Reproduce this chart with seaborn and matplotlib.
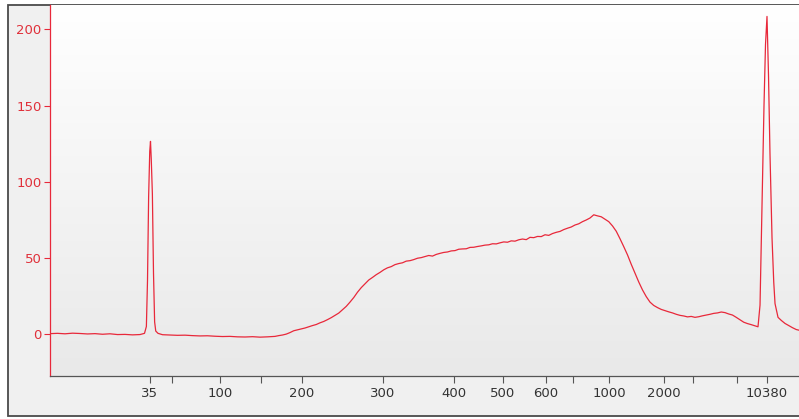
import numpy as np
import pandas as pd
import matplotlib
matplotlib.use("Agg")
import matplotlib.pyplot as plt
from matplotlib.colors import LinearSegmentedColormap
from matplotlib.patches import Rectangle
import seaborn as sns

# ---- data -------------------------------------------------------------
# migration time (s) and fluorescence units
time_s = [
    15, 16, 17, 18, 19, 20, 21, 22, 23, 24, 25, 26, 27, 27.6,
    27.85, 28.0, 28.15, 28.3, 28.4, 28.5, 28.65, 28.8, 28.95, 29.1, 29.4,
    30, 31, 32, 33, 34, 35, 36, 37, 38, 39, 40, 41, 42, 43, 44, 45,
    45.5, 46, 46.5, 47, 47.5, 48, 48.5, 49, 49.5, 50, 50.5, 51, 51.5, 52,
    52.5, 53, 53.5, 54, 54.5, 55, 55.5, 56, 56.5, 57, 57.5, 58, 58.5, 59,
    59.5, 60, 60.5, 61, 61.5, 62, 62.5, 63, 63.5, 64, 64.5, 65, 65.5, 66,
    66.5, 67, 67.5, 68, 68.5, 69, 69.5, 70, 70.5, 71, 71.5, 72, 72.5, 73,
    73.5, 74, 74.5, 75, 75.5, 76, 76.5, 77, 77.5, 78, 78.5, 79, 79.5, 80,
    80.5, 81, 81.5, 82, 82.5, 83, 83.5, 84, 84.5, 85, 85.5, 86, 86.5, 87,
    87.5, 88, 88.5, 89, 89.5, 90, 90.5, 91, 91.5, 92, 92.5, 93, 93.5, 94,
    94.5, 95, 95.5, 96, 96.5, 97, 97.5, 98, 98.5, 99, 99.5, 100, 100.5,
    101, 101.5, 102, 102.5, 103, 103.5, 104, 104.5, 105, 105.5, 106, 106.5,
    107, 107.5, 108, 108.5, 109, 109.4, 109.67, 109.93, 110.2, 110.4, 110.6,
    110.8, 111.0, 111.27, 111.5, 111.67, 112.07, 112.5, 113, 113.5, 114,
    114.5, 115,
]
fu = [
    0.3, 0.5, 0.2, 0.6, 0.4, 0.1, 0.3, -0.1, 0.2, -0.3, -0.2, -0.5, -0.3, 0.5,
    5, 35, 90, 120, 126.5, 115, 92, 40, 8, 2, 0.5,
    -0.4, -0.6, -0.8, -0.7, -1.0, -1.2, -1.1, -1.4, -1.6, -1.5, -1.8, -1.9,
    -1.7, -2.0, -1.8, -1.5,
    -1.0, -0.6, 0.0, 1.0, 2.2, 2.8, 3.4, 4.0, 4.8, 5.6, 6.3, 7.4, 8.3, 9.5,
    10.8, 12.3, 13.8, 16.0, 18.2, 21.0, 24.0, 27.5, 30.5, 33.0, 35.5, 37.2,
    39.0, 40.5, 42.2, 43.5, 44.3, 45.6, 46.3, 46.8, 47.9, 48.2, 48.9, 49.8,
    50.2, 50.9, 51.6, 51.2, 52.3, 53.0, 53.6, 53.9, 54.6, 54.8, 55.7, 55.9,
    56.0, 56.9, 57.0, 57.5, 57.9, 58.4, 58.6, 59.3, 59.2, 59.9, 60.5, 60.3,
    61.2, 61.0, 61.9, 62.4, 62.0, 63.5, 63.3, 64.1, 64.0, 65.2, 64.8, 66.0,
    66.8, 67.4, 68.6, 69.5, 70.3, 71.6, 72.4, 73.8, 74.9, 76.2, 78.3, 77.6,
    77.0, 75.4, 73.8, 71.0, 67.5, 62.6, 57.4, 52.0, 45.8, 40.0, 34.2, 29.0,
    24.6, 21.0, 18.8, 17.4, 16.2, 15.4, 14.6, 13.9, 13.0, 12.3, 11.9, 11.3,
    11.6, 11.0, 11.4, 12.0, 12.5, 13.0, 13.6, 13.9, 14.5, 14.1, 13.2, 12.5,
    11.0, 9.4, 7.8, 6.9, 6.2, 5.4, 4.8, 19, 84, 150, 190, 208.5, 170, 118,
    63, 34, 20, 11, 9, 7, 5.6, 4.2, 3, 2.4,
]

# ladder sizes (bp) and their migration times (s)
ladder_bp = [35, 50, 100, 150, 200, 300, 400, 500, 600, 700, 1000, 2000,
             3000, 7000, 10380]
ladder_time = [28.33, 31.27, 37.67, 43.13, 48.6, 59.4, 68.87, 75.4, 81.13,
               84.73, 89.53, 96.87, 100.73, 106.6, 110.6]
labelled_bp = [35, 100, 200, 300, 400, 500, 600, 1000, 2000, 10380]
y_ticks = [0, 50, 100, 150, 200]

df = pd.DataFrame({"time": time_s, "fu": fu})

# ---- figure -----------------------------------------------------------
sns.set_style("white")
plt.rcParams["font.family"] = ["DejaVu Sans"]

W, H = 799, 419
fig = plt.figure(figsize=(W / 100, H / 100), dpi=100, facecolor="white")

# outer panel frame (drawn beneath the axes)
fig.patches.append(Rectangle((8 / W, 3 / H), 1.0, (H - 8) / H,
                             transform=fig.transFigure, facecolor="#f0f0f0",
                             edgecolor="#4a4a4a", linewidth=1.3, zorder=-10))

ax = fig.add_axes([50 / W, (H - 376) / H, 750 / W, (376 - 5) / H])
ax.set_facecolor("none")

# vertical gradient background: white at top, light grey at bottom
grad = np.linspace(0, 1, 256).reshape(-1, 1)
cmap = LinearSegmentedColormap.from_list("bg", ["#ffffff", "#e9e9e9"])
ax.imshow(grad, aspect="auto", cmap=cmap, extent=[0, 1, 0, 1],
          origin="upper", transform=ax.transAxes, zorder=0)

sns.lineplot(data=df, x="time", y="fu", ax=ax, color="#e8283a",
             linewidth=0.9, estimator=None, sort=False, zorder=3)

ax.set_xlim(15, 115)
ax.set_ylim(-27.5, 216)
ax.set_xlabel("")
ax.set_ylabel("")

ax.set_xticks(ladder_time)
ax.set_xticklabels([str(b) if b in labelled_bp else "" for b in ladder_bp])
ax.set_yticks(y_ticks)
ax.set_yticklabels([str(v) for v in y_ticks])

ax.tick_params(axis="x", direction="out", length=5, width=0.8,
               colors="#555555", labelcolor="#333333", labelsize=9.5, pad=3,
               bottom=True)
ax.tick_params(axis="y", direction="out", length=4, width=0.8,
               colors="#e8283a", labelcolor="#e0303a", labelsize=9.5, pad=2,
               left=True)

for s in ["top", "right"]:
    ax.spines[s].set_visible(False)
ax.spines["left"].set_color("#e8283a")
ax.spines["left"].set_linewidth(0.9)
ax.spines["bottom"].set_color("#555555")
ax.spines["bottom"].set_linewidth(0.9)
ax.grid(False)

fig.savefig("out.png", dpi=100, facecolor=fig.get_facecolor())
